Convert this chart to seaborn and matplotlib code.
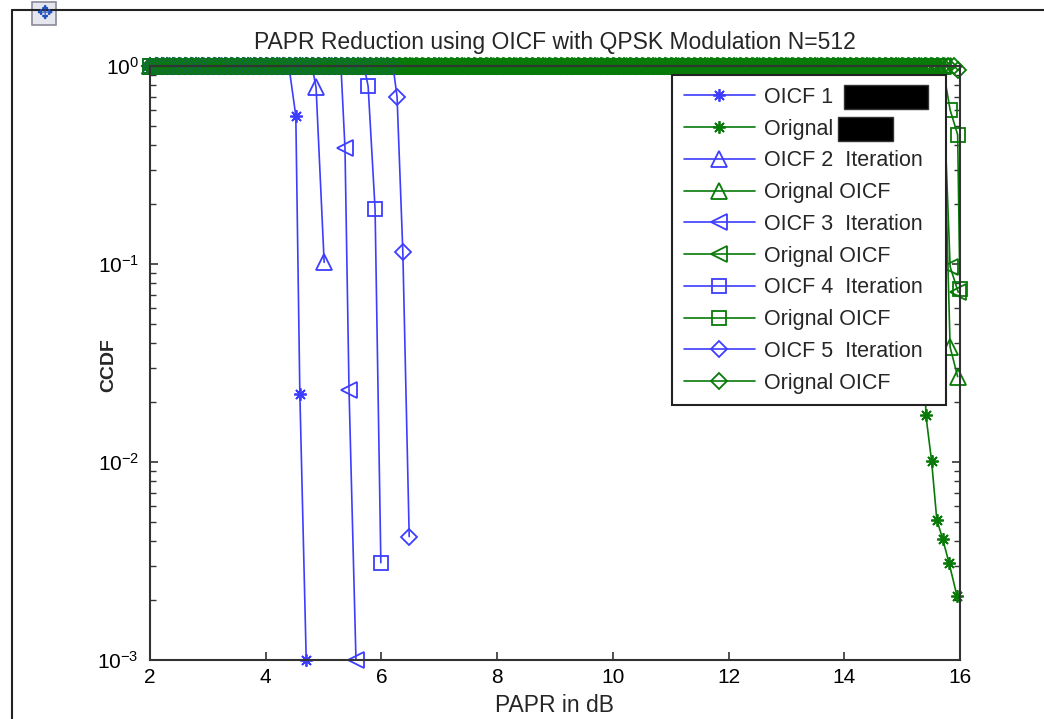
import matplotlib
matplotlib.use("Agg")
import matplotlib.pyplot as plt
import seaborn as sns
import pandas as pd
from matplotlib.lines import Line2D
from matplotlib.patches import Rectangle

# ---------------- data ----------------
papr_grid = [2.0, 2.1, 2.2, 2.3, 2.4, 2.5, 2.6, 2.7, 2.8, 2.9,
             3.0, 3.1, 3.2, 3.3, 3.4, 3.5, 3.6, 3.7, 3.8, 3.9,
             4.0, 4.1, 4.2, 4.3, 4.4, 4.5, 4.6, 4.7, 4.8, 4.9,
             5.0, 5.1, 5.2, 5.3, 5.4, 5.5, 5.6, 5.7, 5.8, 5.9,
             6.0, 6.1, 6.2, 6.3, 6.4, 6.5, 6.6, 6.7, 6.8, 6.9,
             7.0, 7.1, 7.2, 7.3, 7.4, 7.5, 7.6, 7.7, 7.8, 7.9,
             8.0, 8.1, 8.2, 8.3, 8.4, 8.5, 8.6, 8.7, 8.8, 8.9,
             9.0, 9.1, 9.2, 9.3, 9.4, 9.5, 9.6, 9.7, 9.8, 9.9,
             10.0, 10.1, 10.2, 10.3, 10.4, 10.5, 10.6, 10.7, 10.8, 10.9,
             11.0, 11.1, 11.2, 11.3, 11.4, 11.5, 11.6, 11.7, 11.8, 11.9,
             12.0, 12.1, 12.2, 12.3, 12.4, 12.5, 12.6, 12.7, 12.8, 12.9,
             13.0, 13.1, 13.2, 13.3, 13.4, 13.5, 13.6, 13.7, 13.8, 13.9,
             14.0, 14.1, 14.2, 14.3, 14.4, 14.5, 14.6, 14.7, 14.8, 14.9,
             15.0, 15.1, 15.2, 15.3, 15.4, 15.5, 15.6, 15.7, 15.8, 15.9,
             16.0]

labels = ["OICF 1", "Orignal",
          "OICF 2  Iteration  ", "Orignal OICF",
          "OICF 3  Iteration  ", "Orignal OICF",
          "OICF 4  Iteration  ", "Orignal OICF",
          "OICF 5  Iteration  ", "Orignal OICF"]

# last grid point where CCDF is still 1, then the falling points
oicf1_flat_end = 4.4
oicf1_drop_x = [4.52, 4.59, 4.70]
oicf1_drop_y = [0.56, 0.022, 0.001]
orig1_flat_end = 15.3
orig1_drop_x = [15.36, 15.41, 15.51, 15.60, 15.70, 15.81, 15.95]
orig1_drop_y = [0.30, 0.0173, 0.0101, 0.0051, 0.0041, 0.0031, 0.0021]

oicf2_flat_end = 4.8
oicf2_drop_x = [4.87, 5.01]
oicf2_drop_y = [0.78, 0.102]
orig2_flat_end = 15.7
orig2_drop_x = [15.83, 15.96]
orig2_drop_y = [0.038, 0.027]

oicf3_flat_end = 5.3
oicf3_drop_x = [5.37, 5.44, 5.56]
oicf3_drop_y = [0.385, 0.023, 0.001]
orig3_flat_end = 15.7
orig3_drop_x = [15.83, 15.97]
orig3_drop_y = [0.097, 0.072]

oicf4_flat_end = 5.7
oicf4_drop_x = [5.77, 5.89, 5.99]
oicf4_drop_y = [0.79, 0.19, 0.0031]
orig4_flat_end = 15.7
orig4_drop_x = [15.83, 15.96, 16.0]
orig4_drop_y = [0.60, 0.45, 0.075]

oicf5_flat_end = 6.2
oicf5_drop_x = [6.27, 6.37, 6.48]
oicf5_drop_y = [0.70, 0.115, 0.0042]
orig5_flat_end = 15.9
orig5_drop_x = [15.97]
orig5_drop_y = [0.95]

x_ticks = [2, 4, 6, 8, 10, 12, 14, 16]

# ---------------- style ----------------
sns.set_theme(style="ticks")
plt.rcParams["font.family"] = ["Liberation Sans", "DejaVu Sans"]
plt.rcParams["mathtext.fontset"] = "custom"
plt.rcParams["mathtext.rm"] = "Liberation Sans"
plt.rcParams["mathtext.it"] = "Liberation Sans:italic"

BLUE = "#3d3dff"
GREEN = "#087a08"

fig = plt.figure(figsize=(10.44, 7.19), dpi=100)
ax = fig.add_axes([0.1437, 0.0821, 0.9195 - 0.1437, 0.9082 - 0.0821])

def build(flat_end, dx, dy):
    xs = [g for g in papr_grid if g <= flat_end + 1e-9]
    return pd.DataFrame({"PAPR": xs + dx, "CCDF": [1.0] * len(xs) + dy})

series = [
    (oicf1_flat_end, oicf1_drop_x, oicf1_drop_y, BLUE, (8, 2, 0)),
    (orig1_flat_end, orig1_drop_x, orig1_drop_y, GREEN, (8, 2, 0)),
    (oicf2_flat_end, oicf2_drop_x, oicf2_drop_y, BLUE, "^"),
    (orig2_flat_end, orig2_drop_x, orig2_drop_y, GREEN, "^"),
    (oicf3_flat_end, oicf3_drop_x, oicf3_drop_y, BLUE, "<"),
    (orig3_flat_end, orig3_drop_x, orig3_drop_y, GREEN, "<"),
    (oicf4_flat_end, oicf4_drop_x, oicf4_drop_y, BLUE, "s"),
    (orig4_flat_end, orig4_drop_x, orig4_drop_y, GREEN, "s"),
    (oicf5_flat_end, oicf5_drop_x, oicf5_drop_y, BLUE, "D"),
    (orig5_flat_end, orig5_drop_x, orig5_drop_y, GREEN, "D"),
]

sizes = {"^": 11, "<": 11, "s": 9.5, "D": 8.5}
for (fe, dx, dy, col, mk), lab in zip(series, labels):
    df = build(fe, dx, dy)
    ms = sizes.get(mk, 9) if isinstance(mk, str) else 9
    sns.lineplot(data=df, x="PAPR", y="CCDF", ax=ax, sort=False, estimator=None,
                 color=col, marker=mk, markersize=ms, markerfacecolor="none",
                 markeredgecolor=col, markeredgewidth=1.3, linewidth=1.2,
                 label=lab, clip_on=False)

ax.set_yscale("log")
ax.set_xlim(2, 16)
ax.set_ylim(1e-3, 1e0)
ax.set_xticks(x_ticks)
ax.set_xticklabels([str(t) for t in x_ticks])
ax.tick_params(axis="both", which="both", direction="in", top=True, right=True,
               labelsize=15, colors="#333333", labelcolor="black")
ax.tick_params(axis="both", which="major", length=6, width=1.2)
ax.tick_params(axis="both", which="minor", length=4, width=1.0)
ax.tick_params(axis="x", which="minor", bottom=False, top=False)
ax.tick_params(axis="x", pad=6)
ax.tick_params(axis="y", pad=8)
for sp in ax.spines.values():
    sp.set_color("#333333")
    sp.set_linewidth(1.5)

ax.set_title("PAPR Reduction using OICF with QPSK Modulation N=512",
             fontsize=16.5, pad=12)
ax.set_xlabel("PAPR in dB", fontsize=16.5, labelpad=5)
ax.set_ylabel("CCDF", fontsize=14, fontweight="bold")
ax.yaxis.set_label_coords(-0.041, 0.497)

leg = ax.legend(loc="upper right", bbox_to_anchor=(0.983, 0.985),
                borderaxespad=0, fontsize=15.5, frameon=True, fancybox=False,
                handlelength=3.3, labelspacing=0.5, borderpad=0.55,
                handletextpad=0.4)
leg.get_frame().set_edgecolor("#222222")
leg.get_frame().set_linewidth(1.5)
leg.get_frame().set_alpha(1.0)
leg.set_zorder(5)

# redaction boxes that cover part of the first two legend labels
fig.canvas.draw()
W, H = fig.get_size_inches() * fig.dpi
texts = leg.get_texts()
for txt, gap, width in [(texts[0], 11, 84), (texts[1], 5, 55)]:
    bb = txt.get_window_extent()
    cy = (bb.y0 + bb.y1) / 2
    fig.add_artist(Rectangle(((bb.x1 + gap) / W, (cy - 12) / H), width / W, 24 / H,
                             facecolor="black", edgecolor="#333333", lw=1.0,
                             zorder=10))

# figure window frame and move icon (screenshot chrome)
fig.add_artist(Line2D([12 / 1044, 12 / 1044], [0, 1 - 10 / 719], color="#222222", lw=1.5))
fig.add_artist(Line2D([12 / 1044, 1], [1 - 10 / 719, 1 - 10 / 719], color="#222222", lw=1.5))
fig.add_artist(Rectangle((32 / 1044, 1 - 25 / 719), 24 / 1044, 23 / 719,
                         facecolor="#e6e6ee", edgecolor="#8a8a9a", lw=1.2))
fig.text(44 / 1044, 1 - 13.5 / 719, "\u2725", color="#2050c0", fontsize=14,
         ha="center", va="center", family=["DejaVu Sans"])

fig.savefig("out.png", dpi=100, facecolor="white")
